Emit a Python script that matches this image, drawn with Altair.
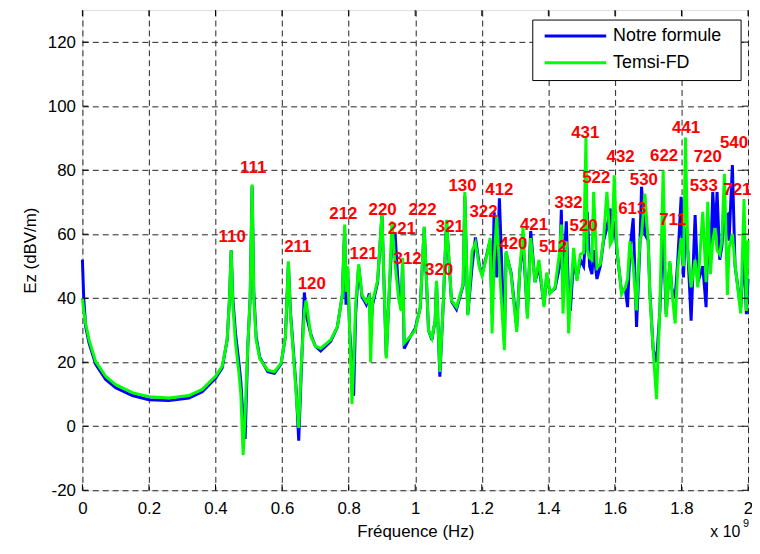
import altair as alt
import pandas as pd

# Frequency axis in units of 1e9 Hz (axis shows "x 10^9")
freq_ghz = [0.000, 0.004, 0.010, 0.020, 0.040, 0.070, 0.100, 0.150, 0.200, 0.260,
            0.320, 0.360, 0.400, 0.420, 0.435, 0.442, 0.447, 0.452, 0.460, 0.470,
            0.476, 0.483, 0.489, 0.497, 0.504, 0.510, 0.515, 0.522, 0.533, 0.557,
            0.577, 0.597, 0.610, 0.619, 0.625, 0.633, 0.642, 0.650, 0.658, 0.667,
            0.672, 0.687, 0.700, 0.716, 0.746, 0.766, 0.781, 0.788, 0.792, 0.797,
            0.803, 0.810, 0.815, 0.821, 0.830, 0.840, 0.853, 0.862, 0.866, 0.872,
            0.887, 0.900, 0.913, 0.922, 0.930, 0.940, 0.950, 0.958, 0.962, 0.967,
            0.985, 1.000, 1.015, 1.027, 1.040, 1.050, 1.060, 1.064, 1.074, 1.085,
            1.094, 1.109, 1.124, 1.144, 1.149, 1.158, 1.171, 1.181, 1.193, 1.201,
            1.218, 1.225, 1.231, 1.237, 1.245, 1.253, 1.268, 1.273, 1.288, 1.305,
            1.314, 1.324, 1.337, 1.347, 1.360, 1.372, 1.387, 1.395, 1.405, 1.420,
            1.434, 1.439, 1.444, 1.454, 1.461, 1.466, 1.476, 1.486, 1.496, 1.506,
            1.513, 1.517, 1.524, 1.531, 1.536, 1.546, 1.556, 1.566, 1.576, 1.586,
            1.591, 1.598, 1.606, 1.620, 1.631, 1.638, 1.645, 1.655, 1.665, 1.675,
            1.680, 1.690, 1.700, 1.705, 1.715, 1.725, 1.735, 1.745, 1.754, 1.765,
            1.771, 1.781, 1.789, 1.799, 1.806, 1.812, 1.819, 1.829, 1.841, 1.849,
            1.864, 1.874, 1.879, 1.887, 1.894, 1.901, 1.907, 1.915, 1.921, 1.929,
            1.938, 1.943, 1.953, 1.961, 1.978, 1.988, 1.995, 2.000]

notre_formule = [52.0, 40.0, 31.0, 26.0, 19.3, 14.6, 12.0, 9.6, 8.3, 8.0,
                 8.8, 10.8, 15.0, 18.2, 27.0, 40.0, 55.0, 40.0, 29.0, 20.0,
                 14.0, 2.0, -4.0, 25.0, 40.0, 75.0, 42.0, 28.0, 21.5, 17.0,
                 16.5, 19.5, 28.0, 51.0, 36.0, 25.0, 12.0, -4.5, 18.0, 41.8,
                 35.0, 28.5, 25.0, 23.5, 26.5, 31.0, 41.0, 62.0, 38.0, 48.0,
                 30.0, 20.0, 9.5, 35.0, 50.0, 40.5, 38.0, 41.5, 30.0, 38.0,
                 45.0, 66.0, 22.0, 42.0, 58.0, 59.5, 42.0, 36.5, 51.0, 24.3,
                 28.0, 30.5, 37.0, 62.0, 30.0, 27.0, 33.0, 45.0, 15.5, 40.0,
                 64.0, 39.0, 36.5, 44.0, 72.0, 35.0, 50.0, 59.0, 50.0, 47.5,
                 55.0, 58.0, 35.0, 67.0, 46.5, 71.2, 26.0, 54.0, 48.0, 31.0,
                 48.0, 58.0, 35.0, 61.0, 45.0, 50.0, 38.0, 47.0, 41.8, 43.0,
                 50.0, 67.6, 45.0, 64.0, 40.0, 36.0, 52.0, 46.0, 52.0, 50.0,
                 60.0, 67.0, 50.0, 47.5, 55.0, 46.0, 50.0, 58.0, 62.0, 68.0,
                 58.0, 64.0, 55.0, 42.0, 43.0, 37.2, 55.0, 65.0, 31.0, 56.0,
                 74.8, 60.0, 58.0, 42.0, 24.0, 20.0, 36.0, 62.0, 35.0, 51.0,
                 43.0, 40.0, 52.0, 71.7, 46.5, 62.0, 55.0, 33.0, 66.0, 45.0,
                 50.0, 37.2, 60.0, 50.0, 73.2, 60.0, 73.2, 52.0, 56.0, 65.0,
                 66.0, 58.0, 81.6, 50.0, 37.0, 55.0, 35.0, 46.0]

temsi_fd = [40.0, 36.0, 32.0, 27.0, 20.2, 15.6, 13.0, 10.5, 9.2, 8.8,
            9.6, 11.5, 15.6, 18.7, 27.0, 40.0, 55.0, 38.0, 26.0, 17.0,
            10.0, -9.0, 4.0, 25.0, 40.0, 75.5, 40.0, 27.0, 21.0, 17.5,
            17.0, 19.7, 28.0, 51.5, 35.0, 24.0, 10.5, -0.5, 20.0, 36.0,
            39.3, 28.0, 25.0, 24.3, 27.0, 31.0, 41.0, 63.0, 42.0, 50.0,
            30.0, 7.0, 20.0, 38.0, 50.6, 41.0, 38.8, 40.5, 20.0, 39.0,
            45.5, 66.5, 21.2, 42.0, 64.0, 50.0, 40.0, 36.0, 52.6, 26.0,
            28.0, 30.0, 37.0, 62.4, 30.0, 27.5, 33.0, 45.4, 17.0, 40.0,
            64.5, 39.3, 37.2, 44.4, 73.2, 34.6, 54.7, 57.3, 49.5, 47.0,
            54.7, 58.8, 29.0, 51.6, 65.5, 50.0, 23.8, 54.7, 47.5, 29.5,
            48.5, 61.9, 33.6, 58.8, 45.0, 52.0, 37.2, 48.0, 41.5, 43.4,
            54.7, 63.0, 35.2, 57.8, 29.0, 40.0, 55.7, 45.4, 53.7, 54.2,
            90.2, 55.0, 52.6, 52.0, 73.2, 49.5, 50.6, 58.8, 73.2, 56.8,
            57.8, 78.4, 55.7, 41.3, 43.4, 46.0, 57.8, 50.0, 36.2, 57.8,
            60.0, 72.7, 57.8, 41.3, 23.8, 8.5, 37.0, 79.9, 34.1, 51.6,
            42.4, 32.1, 49.5, 58.8, 50.0, 90.2, 54.7, 43.4, 52.0, 43.4,
            67.0, 45.0, 70.1, 47.5, 58.0, 61.9, 55.0, 53.7, 57.8, 78.9,
            41.0, 55.7, 60.0, 50.6, 35.2, 71.0, 36.0, 58.0]

mode_labels = ["110", "111", "211", "120", "212", "121", "220", "221", "312", "222",
               "320", "321", "130", "322", "412", "420", "421", "512", "332", "520",
               "431", "522", "432", "613", "530", "622", "711", "441", "533", "720",
               "540", "721"]
mode_x = [0.450, 0.513, 0.647, 0.689, 0.784, 0.845, 0.902, 0.960, 0.977, 1.022,
          1.072, 1.104, 1.142, 1.205, 1.253, 1.295, 1.357, 1.414, 1.461, 1.506,
          1.511, 1.544, 1.617, 1.652, 1.687, 1.748, 1.774, 1.814, 1.867, 1.879,
          1.958, 1.968]
mode_y = [59.0, 80.6, 55.9, 44.4, 66.2, 53.7, 67.6, 61.7, 52.1, 67.6,
          48.7, 62.1, 75.0, 66.8, 73.7, 56.8, 62.9, 55.9, 69.6, 62.4,
          91.7, 77.5, 84.0, 67.9, 76.8, 84.3, 64.5, 93.3, 75.0, 84.0,
          88.6, 73.7]

legend_names = ["Notre formule", "Temsi-FD"]
x_ticks = [0, 0.2, 0.4, 0.6, 0.8, 1.0, 1.2, 1.4, 1.6, 1.8, 2.0]
y_ticks = [-20, 0, 20, 40, 60, 80, 100, 120]

W, H = 671, 484
BLUE, GREEN, RED = "#0000FF", "#00FF00", "#FF0000"
FONT = "Liberation Sans"

df = pd.DataFrame({"f": freq_ghz, "notre": notre_formule, "temsi": temsi_fd})
lab = pd.DataFrame({"t": mode_labels, "f": mode_x, "v": mode_y})
xt = pd.DataFrame({"f": x_ticks})
yt = pd.DataFrame({"v": y_ticks})
leg = pd.DataFrame({"name": legend_names})

xs = alt.Scale(domain=[0, 2], nice=False, zero=False)
ys = alt.Scale(domain=[-20, 130], nice=False, zero=False)

grid_common = dict(grid=True, gridDash=[6, 4], gridColor="#222222", gridOpacity=1,
                   gridWidth=1, ticks=False, tickSize=0, domain=False,
                   labelFont=FONT, labelFontSize=17, labelColor="black",
                   titleFont=FONT, titleFontSize=17, titleColor="black",
                   titleFontWeight="normal", labelFlush=False, labelOverlap=False,
                   labelExpr="datum.value + ''")

xaxis = alt.Axis(values=x_ticks, title="Fréquence (Hz)",
                 labelPadding=10, titlePadding=8, **grid_common)
yaxis = alt.Axis(values=y_ticks, title="Ez (dBV/m)",
                 labelPadding=7, titlePadding=8, **grid_common)


def X(field):
    return alt.X(field, type="quantitative", scale=xs, axis=xaxis)


def Y(field):
    return alt.Y(field, type="quantitative", scale=ys, axis=yaxis)


base = alt.Chart(df)
blue_line = base.mark_line(color=BLUE, strokeWidth=3).encode(x=X("f"), y=Y("notre"))
green_line = base.mark_line(color=GREEN, strokeWidth=3).encode(x=X("f"), y=Y("temsi"))

labels = alt.Chart(lab).mark_text(color=RED, font=FONT, fontSize=17, fontWeight="bold",
                                  align="center", baseline="middle").encode(
    x=X("f"), y=Y("v"), text="t:N")

tick_style = dict(color="black", strokeWidth=1)
xt_bottom = alt.Chart(xt).mark_rule(**tick_style).encode(
    x=X("f"), y=alt.value(H), y2=alt.value(H - 6))
xt_top = alt.Chart(xt).mark_rule(**tick_style).encode(
    x=X("f"), y=alt.value(0), y2=alt.value(6))
yt_left = alt.Chart(yt).mark_rule(**tick_style).encode(
    y=Y("v"), x=alt.value(0), x2=alt.value(6))
yt_right = alt.Chart(yt).mark_rule(**tick_style).encode(
    y=Y("v"), x=alt.value(W - 6), x2=alt.value(W))

# Legend box (drawn manually, MATLAB style)
leg_box = alt.Chart(leg.head(1)).mark_rect(fill="white", stroke="black", strokeWidth=1).encode(
    x=alt.value(454), x2=alt.value(664), y=alt.value(10), y2=alt.value(71))
leg_blue = alt.Chart(leg.head(1)).mark_rule(color=BLUE, strokeWidth=3).encode(
    x=alt.value(466), x2=alt.value(528), y=alt.value(26))
leg_green = alt.Chart(leg.tail(1)).mark_rule(color=GREEN, strokeWidth=3).encode(
    x=alt.value(466), x2=alt.value(528), y=alt.value(53))
leg_t1 = alt.Chart(leg.head(1)).mark_text(font=FONT, fontSize=18, align="left",
                                          baseline="middle", color="black").encode(
    x=alt.value(535), y=alt.value(26), text="name:N")
leg_t2 = alt.Chart(leg.tail(1)).mark_text(font=FONT, fontSize=18, align="left",
                                          baseline="middle", color="black").encode(
    x=alt.value(535), y=alt.value(53), text="name:N")

# Axis multiplier "x 10^9"
mult = alt.Chart(leg.head(1)).mark_text(font=FONT, fontSize=16, align="left",
                                        baseline="middle", color="black", text="x 10").encode(
    x=alt.value(633), y=alt.value(526))
mult_exp = alt.Chart(leg.head(1)).mark_text(font=FONT, fontSize=11, align="left",
                                            baseline="middle", color="black", text="9").encode(
    x=alt.value(666), y=alt.value(518))

chart = alt.layer(
    blue_line, green_line, xt_bottom, xt_top, yt_left, yt_right, labels,
    leg_box, leg_blue, leg_green, leg_t1, leg_t2, mult, mult_exp,
).properties(
    width=W, height=H,
    autosize=alt.AutoSizeParams(type="none"),
    padding={"left": 75, "top": 0, "right": 4, "bottom": 48},
    background="white",
).configure_view(
    stroke="black", strokeWidth=1
).configure(
    font=FONT
)

chart.save("out.html", embed_options={"renderer": "svg", "actions": False})
